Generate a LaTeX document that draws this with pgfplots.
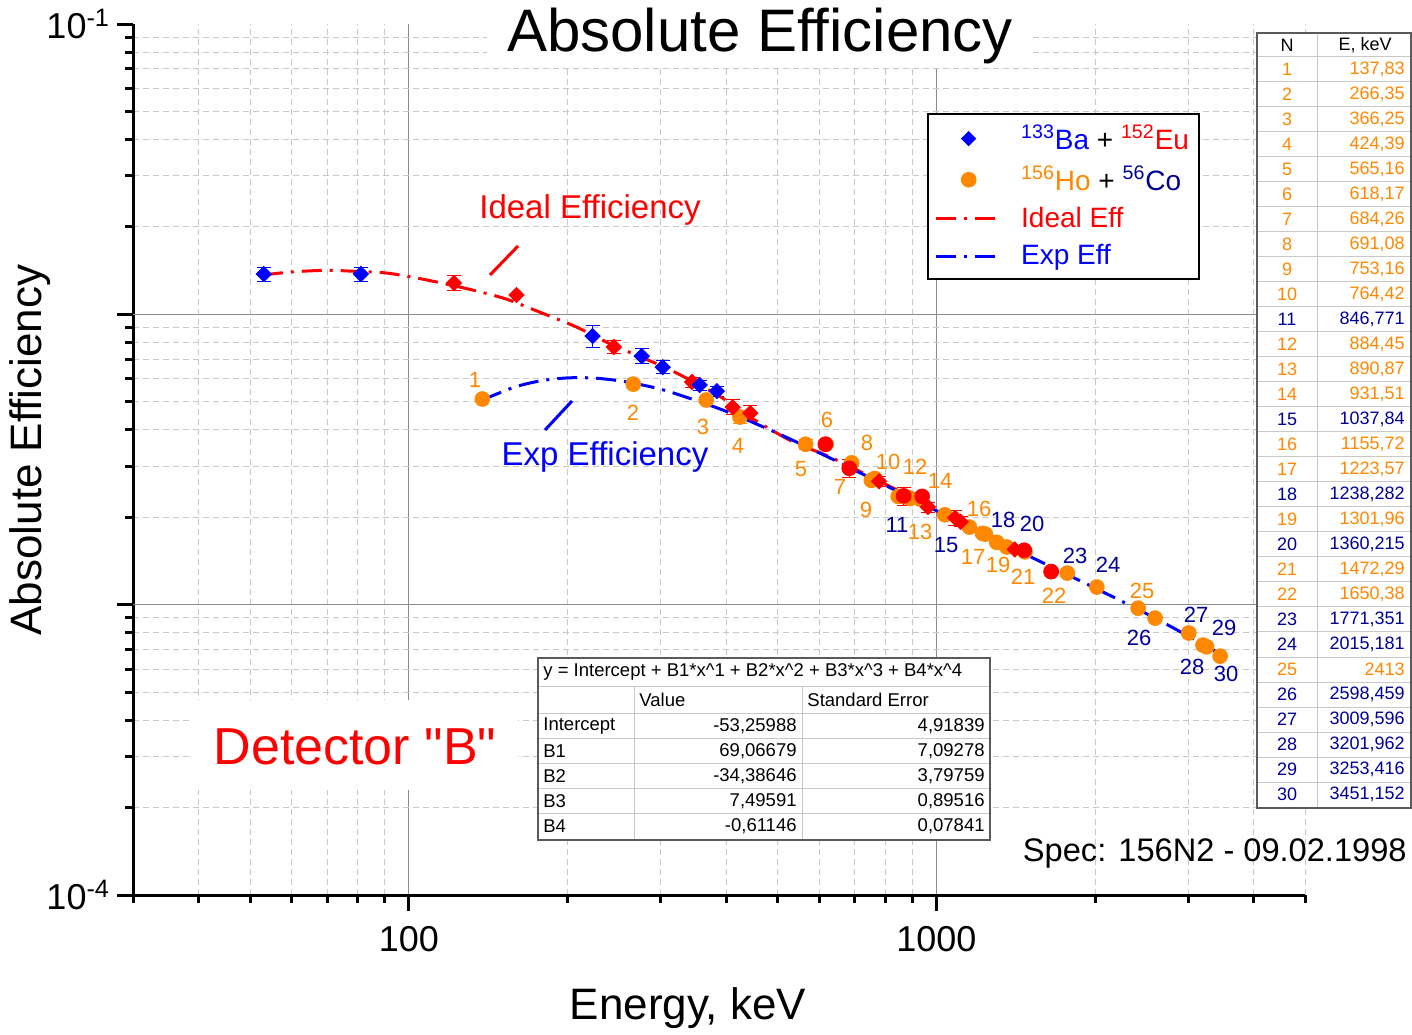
\documentclass[border=0pt]{standalone}
\usepackage{fontspec}
\setmainfont{Liberation Sans}
\usepackage{pgfplots}
\pgfplotsset{compat=1.18}
\definecolor{myorange}{RGB}{255,136,0}
\definecolor{navy}{RGB}{0,0,150}
\definecolor{gridmaj}{RGB}{140,140,140}
\definecolor{gridmin}{RGB}{200,200,200}
\definecolor{tabline}{RGB}{200,200,200}
\definecolor{tabborder}{RGB}{90,90,90}
\newcommand\fs[1]{\fontsize{#1}{#1}\selectfont}
\begin{document}
\begin{tikzpicture}
\useasboundingbox (0pt,0pt) rectangle (706pt,517pt);
\begin{axis}[
  at={(66.5pt,69.5pt)}, anchor=south west,
  scale only axis, width=586pt, height=435.5pt,
  xmode=log, ymode=log,
  xmin=30, xmax=5000, ymin=1e-4, ymax=1e-1,
  axis x line*=bottom, axis y line*=left,
  axis line style={line width=1.5pt, black},
  xtick={100,1000}, xticklabels={100,1000},
  minor xtick={30,40,50,60,70,80,90,200,300,400,500,600,700,800,900,2000,3000,4000,5000},
  ytick={1e-4,1e-1},
  yticklabels={10\textsuperscript{-4},10\textsuperscript{-1}},
  extra y ticks={1e-3,1e-2}, extra y tick labels={},
  extra y tick style={ymajorgrids=true},
  minor ytick={2e-4,3e-4,4e-4,5e-4,6e-4,7e-4,8e-4,9e-4,2e-3,3e-3,4e-3,5e-3,6e-3,7e-3,8e-3,9e-3,2e-2,3e-2,4e-2,5e-2,6e-2,7e-2,8e-2,9e-2},
  tick align=outside,
  major tick length=8pt, minor tick length=4pt,
  every tick/.style={black, line width=1.5pt},
  xmajorgrids=true, xminorgrids=true, ymajorgrids=false, yminorgrids=true,
  major grid style={gridmaj, line width=0.5pt, solid},
  minor grid style={gridmin, line width=0.5pt, dash pattern=on 3pt off 2pt},
  ticklabel style={font=\fs{18}},
  xticklabel style={yshift=-4pt},
  legend image code/.code={\draw[mark repeat=2,mark phase=2,#1] plot coordinates {(0pt,0pt) (16.5pt,0pt) (33pt,0pt)};},
  legend cell align=left,
  legend style={at={(axis description cs:0.9104,0.8978)}, anchor=north east,
    draw=black, line width=1pt, fill=white, font=\fs{14},
    inner xsep=3pt, inner ysep=3.5pt, row sep=3pt,
    /tikz/every odd column/.append style={column sep=7pt}},
]
% legend images
\addlegendimage{only marks, mark=square*, mark size=2.2pt, blue, mark options={rotate=45, fill=blue, draw=blue}}
\addlegendentry{\textcolor{blue}{\textsuperscript{133}Ba} + \textcolor{red}{\textsuperscript{152}Eu}}
\addlegendimage{only marks, mark=*, mark size=3.4pt, myorange, mark options={fill=myorange, draw=myorange}}
\addlegendentry{\textcolor{myorange}{\textsuperscript{156}Ho} + \textcolor{navy}{\textsuperscript{56}Co}}
\addlegendimage{red, line width=1.5pt, dash pattern=on 10pt off 4pt on 1.5pt off 4pt}
\addlegendentry{\textcolor{red}{Ideal Eff}}
\addlegendimage{blue, line width=1.5pt, dash pattern=on 10pt off 4pt on 1.5pt off 4pt}
\addlegendentry{\textcolor{blue}{Exp Eff}}

% orange circles 156Ho + 56Co
\addplot[forget plot, only marks, mark=*, mark size=3.7pt, myorange, mark options={fill=myorange, draw=myorange},
  error bars/.cd, y dir=both, y explicit relative,
  error bar style={myorange, line width=0.5pt},
  error mark options={rotate=90, mark size=3.5pt, myorange, line width=0.5pt}]
coordinates {
(137.83,0.00511) +- (0,0.02)
(266.35,0.00575) +- (0,0.02)
(366.25,0.00507) +- (0,0.02)
(424.39,0.00443) +- (0,0.05)
(565.16,0.00357) +- (0,0.04)
(618.17,0.00357) +- (0,0.02)
(684.26,0.00296) +- (0,0.02)
(691.08,0.00308) +- (0,0.03)
(753.16,0.00268) +- (0,0.02)
(764.42,0.00272) +- (0,0.03)
(846.771,0.00236) +- (0,0.02)
(884.45,0.00234) +- (0,0.04)
(890.87,0.00232) +- (0,0.02)
(931.51,0.00231) +- (0,0.02)
(1037.84,0.00204) +- (0,0.02)
(1155.72,0.00185) +- (0,0.03)
(1223.57,0.00176) +- (0,0.02)
(1238.282,0.00175) +- (0,0.02)
(1301.96,0.00164) +- (0,0.02)
(1360.215,0.00158) +- (0,0.02)
(1472.29,0.00152) +- (0,0.02)
(1650.38,0.00130) +- (0,0.02)
(1771.351,0.001285) +- (0,0.02)
(2015.181,0.00115) +- (0,0.02)
(2413,0.000973) +- (0,0.02)
(2598.459,0.000899) +- (0,0.02)
(3009.596,0.000799) +- (0,0.02)
(3201.962,0.000726) +- (0,0.02)
(3253.416,0.000716) +- (0,0.02)
(3451.152,0.000665) +- (0,0.02)
};
% red circles
\addplot[forget plot, only marks, mark=*, mark size=3.7pt, red, mark options={fill=red, draw=red},
  error bars/.cd, y dir=both, y explicit relative,
  error bar style={red, line width=0.5pt},
  error mark options={rotate=90, mark size=3.5pt, red, line width=0.5pt}]
coordinates {
(616,0.00357) +- (0,0)
(684,0.00295) +- (0,0.07)
(867,0.00237) +- (0,0.07)
(940,0.00236) +- (0,0.03)
(1468,0.00154) +- (0,0.03)
(1651,0.00130) +- (0,0)
};
% red diamonds 152Eu
\addplot[forget plot, only marks, mark=square*, mark size=2.7pt, red, mark options={rotate=45, fill=red, draw=red},
  error bars/.cd, y dir=both, y explicit relative,
  error bar style={red, line width=0.5pt},
  error mark options={rotate=90, mark size=3.5pt, red, line width=0.5pt}]
coordinates {
(121.8,0.01282) +- (0,0.06)
(160,0.01166) +- (0,0)
(244.7,0.00772) +- (0,0.05)
(344.3,0.00585) +- (0,0.04)
(411.1,0.00479) +- (0,0.06)
(444,0.00457) +- (0,0.06)
(778.9,0.00266) +- (0,0.04)
(964,0.00217) +- (0,0.04)
(1085.8,0.00199) +- (0,0.06)
(1112,0.00193) +- (0,0.04)
(1408,0.00155) +- (0,0.03)
};
% blue diamonds 133Ba
\addplot[forget plot, only marks, mark=square*, mark size=2.7pt, blue, mark options={rotate=45, fill=blue, draw=blue},
  error bars/.cd, y dir=both, y explicit relative,
  error bar style={blue, line width=0.5pt},
  error mark options={rotate=90, mark size=3.5pt, blue, line width=0.5pt}]
coordinates {
(53.1,0.01377) +- (0,0.055)
(81.1,0.01377) +- (0,0.055)
(223,0.00842) +- (0,0.09)
(276.4,0.00718) +- (0,0.06)
(302.85,0.00658) +- (0,0.05)
(356,0.00571) +- (0,0.04)
(383.8,0.00544) +- (0,0.04)
};
% ideal efficiency curve
\addplot[forget plot, red, line width=1.5pt, dash pattern=on 10pt off 4pt on 1.5pt off 4pt, smooth]
coordinates {
(52.9,0.01366) (60,0.01400) (70,0.01418) (80,0.01405) (90,0.01390) (100,0.01350)
(113,0.01292) (132,0.01213) (153,0.01129) (177,0.01018) (208,0.00904) (243.5,0.00784)
(299,0.00669) (336,0.00603) (390,0.00520) (437,0.00450) (527,0.00369) (635,0.00320)
(794,0.00262) (1000,0.00212) (1259,0.00172) (1500,0.00150)
};
% experimental efficiency curve
\addplot[forget plot, blue, line width=1.5pt, dash pattern=on 10pt off 4pt on 1.5pt off 4pt, smooth]
coordinates {
(138.0,0.005073) (158.5,0.005613) (177.8,0.005902) (199.5,0.006040) (223.9,0.006036)
(251.2,0.005902) (281.8,0.005675) (316.2,0.005373) (398.1,0.004647) (501.2,0.003887)
(631.0,0.003191) (794.3,0.002595) (1000,0.002107) (1258.9,0.001716) (1584.9,0.001400)
(1995.3,0.001143) (2511.9,0.000928) (3162.3,0.000741) (3451,0.000676)
};
\end{axis}

\begin{scope}[x=0.5pt,y=-0.5pt,shift={(0pt,517pt)}]
% title
\node[fill=white, inner xsep=10pt, inner ysep=2pt, font=\fs{30}] at (760,36) {Absolute Efficiency};
% axis labels
\node[font=\fs{22}] at (688,1008) {Energy, keV};
\node[font=\fs{22}, rotate=90] at (30,450) {Absolute Efficiency};
% curve labels
\node[red, font=\fs{16.5}] at (590,210) {Ideal Efficiency};
\draw[red, line width=1.5pt] (490,275) -- (518,246);
\node[blue, font=\fs{16.5}] at (605,457) {Exp Efficiency};
\draw[blue, line width=1.5pt] (545,430) -- (572,401);
% detector label
\fill[white] (192,700) rectangle (518,790);
\node[red, font=\fs{26}] at (355,747) {Detector \textquotedbl B\textquotedbl};
% spec
\node[anchor=east, inner sep=0pt, font=\fs{16.3}] at (1407,853) {Spec: 156N2 - 09.02.1998};
% point number labels
\begin{scope}[every node/.style={font=\fs{11}}]
\node[myorange] at (475,380) {1};
\node[myorange] at (633,413) {2};
\node[myorange] at (703,427) {3};
\node[myorange] at (738,446) {4};
\node[myorange] at (801,469) {5};
\node[myorange] at (827,420) {6};
\node[myorange] at (840,487) {7};
\node[myorange] at (867,443) {8};
\node[myorange] at (866,510) {9};
\node[myorange] at (888,462) {10};
\node[navy] at (897,525) {11};
\node[myorange] at (915,467) {12};
\node[myorange] at (920,532) {13};
\node[myorange] at (940,481) {14};
\node[navy] at (946,545) {15};
\node[myorange] at (979,509) {16};
\node[myorange] at (973,557) {17};
\node[navy] at (1003,520) {18};
\node[myorange] at (998,565) {19};
\node[navy] at (1032,524) {20};
\node[myorange] at (1023,577) {21};
\node[myorange] at (1054,596) {22};
\node[navy] at (1075,556) {23};
\node[navy] at (1108,565) {24};
\node[myorange] at (1142,591) {25};
\node[navy] at (1139,638) {26};
\node[navy] at (1196,615) {27};
\node[navy] at (1192,667) {28};
\node[navy] at (1224,628) {29};
\node[navy] at (1226,674) {30};
\end{scope}
% fit table
\fill[white] (538,658) rectangle (990,840);
\draw[tabline, line width=0.5pt] (538,686) -- (990,686);
\foreach \yy in {713,738,763,788,813} {\draw[tabline, line width=0.5pt] (538,\yy) -- (990,\yy);}
\draw[tabline, line width=0.5pt] (634,686) -- (634,840);
\draw[tabline, line width=0.5pt] (802,686) -- (802,840);
\draw[tabborder, line width=0.8pt] (538,658) rectangle (990,840);
\begin{scope}[every node/.style={font=\fs{9.25}, inner sep=0pt}]
\node[anchor=west] at (543,672) {y = Intercept + B1*x\^{}1 + B2*x\^{}2 + B3*x\^{}3 + B4*x\^{}4};
\node[anchor=west] at (639,700) {Value};
\node[anchor=west] at (807,700) {Standard Error};
\node[anchor=west] at (543,726) {Intercept};
\node[anchor=west] at (543,751) {B1};
\node[anchor=west] at (543,776) {B2};
\node[anchor=west] at (543,801) {B3};
\node[anchor=west] at (543,826) {B4};
\node[anchor=east] at (797,726) {-53,25988};
\node[anchor=east] at (797,751) {69,06679};
\node[anchor=east] at (797,776) {-34,38646};
\node[anchor=east] at (797,801) {7,49591};
\node[anchor=east] at (797,826) {-0,61146};
\node[anchor=east] at (985,726) {4,91839};
\node[anchor=east] at (985,751) {7,09278};
\node[anchor=east] at (985,776) {3,79759};
\node[anchor=east] at (985,801) {0,89516};
\node[anchor=east] at (985,826) {0,07841};
\end{scope}
% energy table
\fill[white] (1257,33) rectangle (1411,808);
\foreach \i in {1,...,30} {\draw[tabline, line width=0.5pt] (1257,{57+25*(\i-1)}) -- (1411,{57+25*(\i-1)});}
\draw[tabline, line width=0.5pt] (1317,33) -- (1317,808);
\draw[tabborder, line width=0.8pt] (1257,33) rectangle (1411,808);
\begin{scope}[every node/.style={font=\fs{9}, inner sep=0pt}]
\node at (1287,45) {N};
\node at (1365,45) {E, keV};
\foreach \n/\e/\c in {1/137{,}83/myorange, 2/266{,}35/myorange, 3/366{,}25/myorange, 4/424{,}39/myorange,
  5/565{,}16/myorange, 6/618{,}17/myorange, 7/684{,}26/myorange, 8/691{,}08/myorange, 9/753{,}16/myorange,
  10/764{,}42/myorange, 11/846{,}771/navy, 12/884{,}45/myorange, 13/890{,}87/myorange, 14/931{,}51/myorange,
  15/1037{,}84/navy, 16/1155{,}72/myorange, 17/1223{,}57/myorange, 18/1238{,}282/navy, 19/1301{,}96/myorange,
  20/1360{,}215/navy, 21/1472{,}29/myorange, 22/1650{,}38/myorange, 23/1771{,}351/navy, 24/2015{,}181/navy,
  25/2413/myorange, 26/2598{,}459/navy, 27/3009{,}596/navy, 28/3201{,}962/navy, 29/3253{,}416/navy, 30/3451{,}152/navy}
{
  \node[\c] at (1287,{69.5+25*(\n-1)}) {\n};
  \node[\c, anchor=east] at (1405,{69.5+25*(\n-1)}) {\e};
}
\end{scope}
\end{scope}
\end{tikzpicture}
\end{document}
